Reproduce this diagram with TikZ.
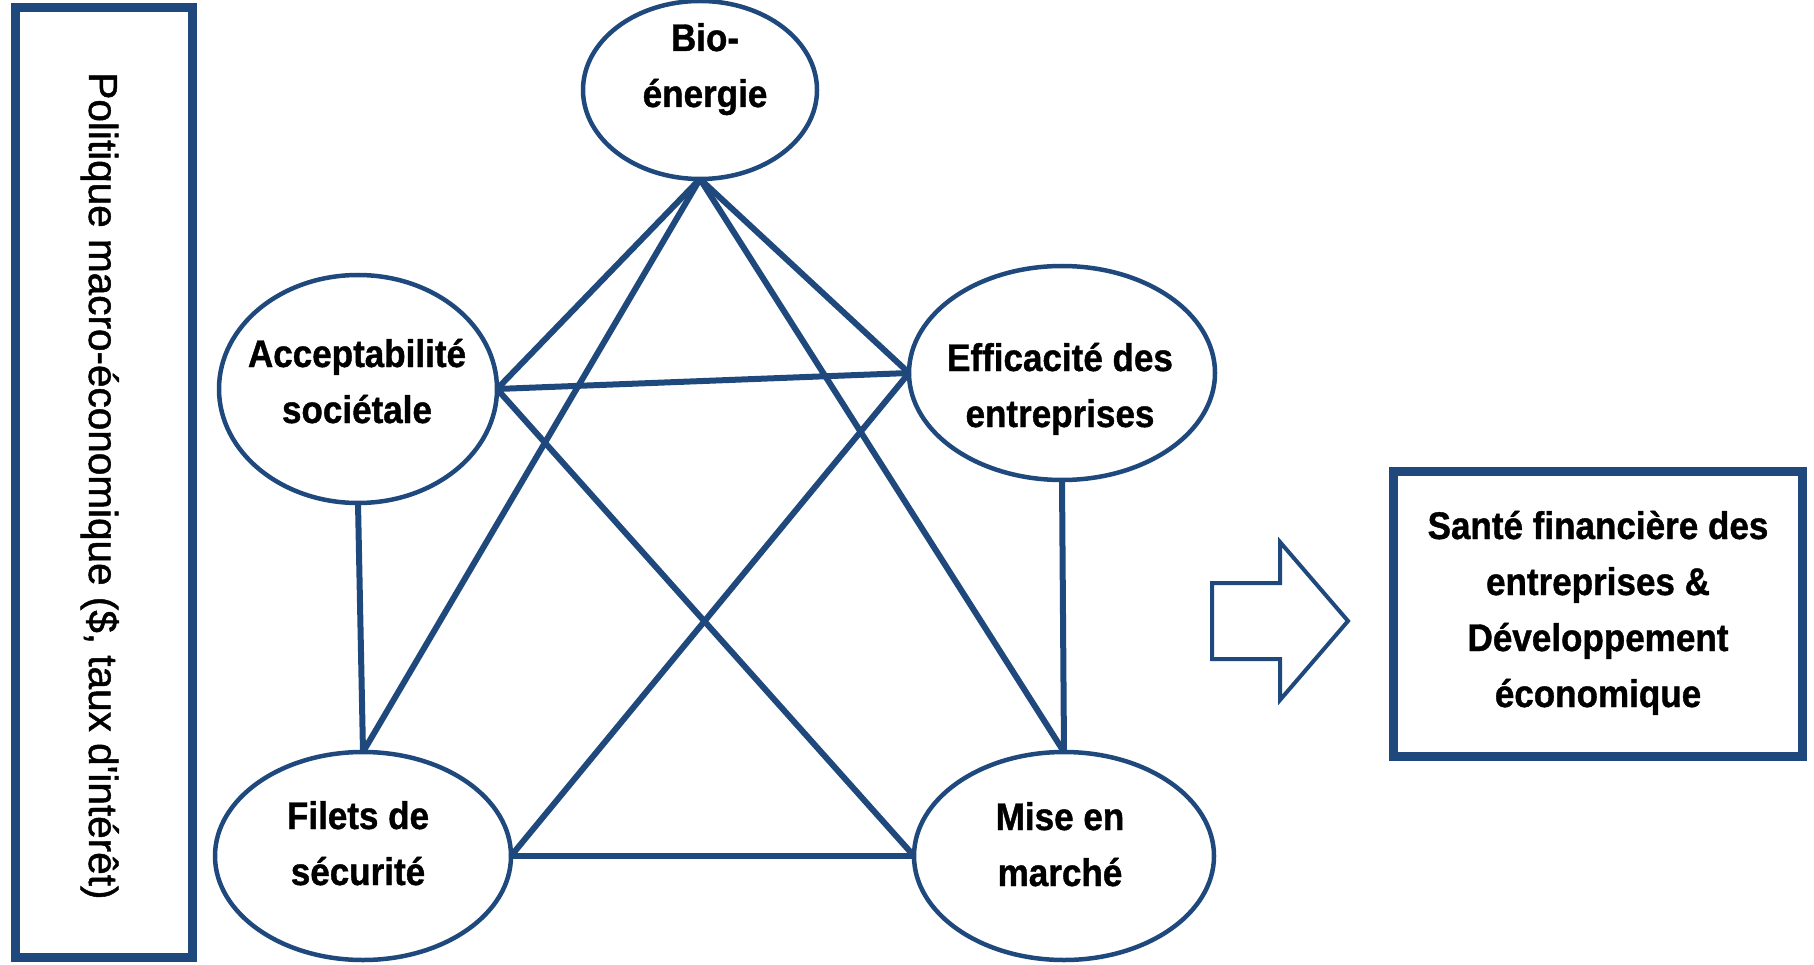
\documentclass[tikz,border=0pt]{standalone}
\usepackage{fontspec}
\setmainfont{Liberation Sans}
\newfontfamily\sidefont[FakeBold=1.2]{Liberation Sans}
\newfontfamily\lblfont[FakeStretch=0.91,FakeBold=1]{Liberation Sans}
\usetikzlibrary{shapes.geometric}
\definecolor{dblue}{RGB}{31,73,125}
\begin{document}
\begin{tikzpicture}[x=1pt,y=-1pt,
  ell/.style={ellipse, draw=dblue, line width=4.5pt, inner sep=0pt, outer sep=0pt},
  link/.style={draw=dblue, line width=6pt},
  lbl/.style={font=\lblfont\fontsize{38.5}{56}\selectfont\bfseries, align=center, inner sep=0pt, anchor=base},
  frame/.style={draw=dblue, line width=9pt, inner sep=0pt, outer sep=0pt}]
\useasboundingbox (0,0) rectangle (1814,965);
% frames
\node[frame, minimum width=177pt, minimum height=949.5pt] (L) at (104,482.25) {};
\node[font=\sidefont\fontsize{40.5}{48}\selectfont, rotate=-90, anchor=base, inner sep=0pt] (Lt) at (89,486) {Politique macro-économique (\$, taux d'intérêt)};
\node[frame, line width=8.5pt, minimum width=409pt, minimum height=285pt] (R) at (1598,614) {};
\node[lbl] (Rt) at (1598,707) {Santé financière des\\entreprises \&\\Développement\\économique};
% ellipses
\node[ell, minimum width=234pt, minimum height=178pt] (B) at (700,90) {};
\node[ell, minimum width=278pt, minimum height=228pt] (A) at (358,389) {};
\node[ell, minimum width=306pt, minimum height=214pt] (E) at (1062,373) {};
\node[ell, minimum width=296pt, minimum height=208pt] (F) at (363,856) {};
\node[ell, minimum width=300pt, minimum height=208pt] (M) at (1064,856) {};
% links
\draw[link] (B.south) -- (A.east);
\draw[link] (B.south) -- (F.north);
\draw[link] (B.south) -- (E.west);
\draw[link] (B.south) -- (M.north);
\draw[link] (A.east) -- (E.west);
\draw[link] (A.east) -- (M.west);
\draw[link] (A.south) -- (F.north);
\draw[link] (E.west) -- (F.east);
\draw[link] (E.south) -- (M.north);
\draw[link] (F.east) -- (M.west);
% labels
\node[lbl] (Bt) at (705,107) {Bio-\\énergie};
\node[lbl] (At) at (357,423) {Acceptabilité\\sociétale};
\node[lbl] (Et) at (1060,427) {Efficacité des\\entreprises};
\node[lbl] (Ft) at (358,885) {Filets de\\sécurité};
\node[lbl] (Mt) at (1060,886) {Mise en\\marché};
% block arrow
\draw[dblue, line width=4pt, line join=miter] (1212,583) -- (1280,583) -- (1280,542) -- (1348,621) -- (1280,700) -- (1280,659) -- (1212,659) -- cycle;
\end{tikzpicture}
\end{document}
